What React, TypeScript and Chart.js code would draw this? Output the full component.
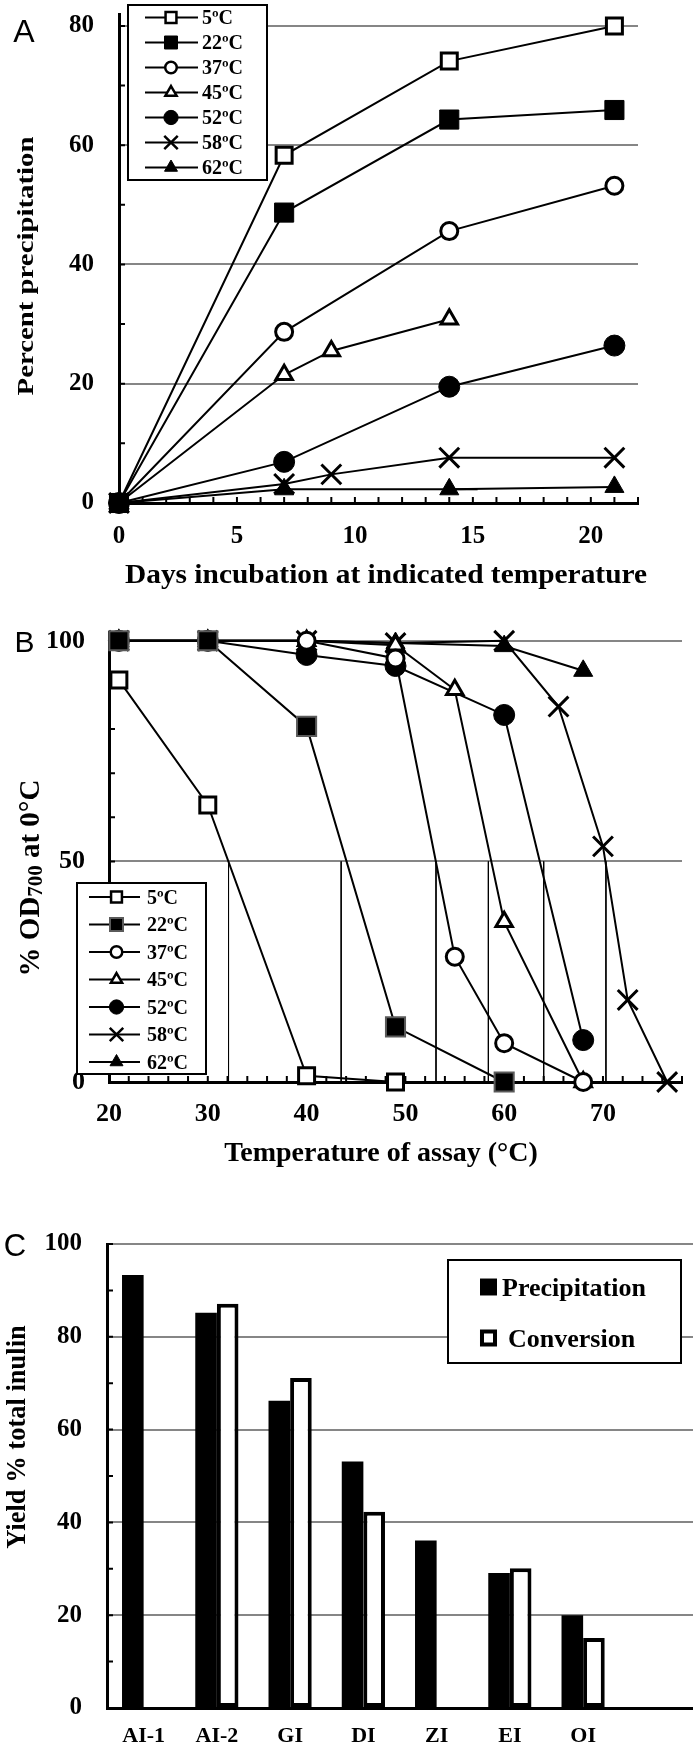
import React, { useEffect, useRef } from 'react';
import { Chart, registerables } from 'chart.js';

Chart.register(...registerables);

const SERIF = "'Liberation Serif', 'Times New Roman', Times, serif";
const SANS = "'Liberation Sans', Arial, Helvetica, sans-serif";
const GRID = '#868686';

type Pt = [number, number];

// ---------------- shared series names & marker styles ----------------
const tempLabels = ['5ºC', '22ºC', '37ºC', '45ºC', '52ºC', '58ºC', '62ºC'];
const markerStyles = ['rect', 'rect', 'circle', 'triangle', 'circle', 'crossRot', 'triangle'];
const markerFilled = [false, true, false, false, true, false, true];
const markerRadius = [11.3, 13.5, 8.5, 9.5, 10.5, 14, 11];

// ---------------- Panel A: days of incubation vs percent precipitation ----------------
const a5C: Pt[] = [[0, 0], [7, 58.3], [14, 74.1], [21, 80]];
const a22C: Pt[] = [[0, 0], [7, 48.7], [14, 64.3], [21, 65.9]];
const a37C: Pt[] = [[0, 0], [7, 28.7], [14, 45.6], [21, 53.2]];
const a45C: Pt[] = [[0, 0], [7, 21.5], [9, 25.5], [14, 30.8]];
const a52C: Pt[] = [[0, 0], [7, 6.9], [14, 19.5], [21, 26.4]];
const a58C: Pt[] = [[0, 0], [7, 3.2], [9, 4.8], [14, 7.6], [21, 7.6]];
const a62C: Pt[] = [[0, 0], [7, 2.3], [14, 2.3], [21, 2.7]];
const a62Extra: Pt[] = [[14, 2.3], [15.2, 2.3]];
const aXTicks = [0, 5, 10, 15, 20];
const aYTicks = [0, 20, 40, 60, 80];
const aXMinor = [1, 2, 3, 4, 5, 6, 7, 8, 9, 10, 11, 12, 13, 14, 15, 16, 17, 18, 19, 20, 21, 22];
const aYMinor = [10, 20, 30, 40, 50, 60, 70, 80];

// ---------------- Panel B: assay temperature vs % OD700 ----------------
const b5C: Pt[] = [[21, 91.1], [30, 62.8], [40, 1.4], [49, 0]];
const b22C: Pt[] = [[21, 100], [30, 100], [40, 80.6], [49, 12.5], [60, 0]];
const b37C: Pt[] = [[21, 100], [30, 100], [40, 100], [49, 96], [55, 28.4], [60, 8.8], [68, 0]];
const b45C: Pt[] = [[21, 100], [30, 100], [40, 100], [49, 99], [55, 88.9], [60, 36.3], [68, 0]];
const b52C: Pt[] = [[21, 100], [30, 100], [40, 96.8], [49, 94.3], [60, 83.2], [68, 9.5]];
const b58C: Pt[] = [[21, 100], [30, 100], [40, 100], [49, 99.5], [60, 100], [65.5, 85.1], [70, 53.4], [72.5, 18.6], [76.5, 0]];
const b62C: Pt[] = [[21, 100], [30, 100], [40, 100], [49, 99.5], [60, 98.8], [68, 93.2]];
const bHalfTemps = [32.1, 43.5, 53.1, 58.4, 64.0, 70.3];
const bHalfLevel = 50;
const bXTicks = [20, 30, 40, 50, 60, 70];
const bYTicks = [0, 50, 100];
const bXMinor = [22, 24, 26, 28, 30, 32, 34, 36, 38, 40, 42, 44, 46, 48, 50, 52, 54, 56, 58, 60, 62, 64, 66, 68, 70, 72, 74, 76, 78];
const bYMinor = [10, 20, 30, 40, 50, 60, 70, 80, 90, 100];

// ---------------- Panel C: yield % total inulin ----------------
const cCategories = ['AI-1', 'AI-2', 'GI', 'DI', 'ZI', 'EI', 'OI', ''];
const cPrecipitation = [93.3, 85.2, 66.2, 53.1, 36.1, 29.1, 20.0];
const cConversion = [null, 87.1, 71.1, 42.3, null, 30.1, 15.1];
const cYTicks = [0, 20, 40, 60, 80, 100];
const cYMinor = [10, 20, 30, 40, 50, 60, 70, 80, 90, 100];

// ---------------- drawing helpers ----------------
function drawMarker(ctx: CanvasRenderingContext2D, style: string, x: number, y: number, r: number, fill: string, stroke: string, lw: number) {
  ctx.save();
  ctx.fillStyle = fill;
  ctx.strokeStyle = stroke;
  ctx.lineWidth = lw;
  ctx.beginPath();
  if (style === 'rect') {
    const s = r * Math.SQRT1_2;
    ctx.rect(x - s, y - s, 2 * s, 2 * s);
  } else if (style === 'circle') {
    ctx.arc(x, y, r, 0, Math.PI * 2);
  } else if (style === 'triangle') {
    const a = (2 * Math.PI) / 3;
    ctx.moveTo(x, y - r);
    ctx.lineTo(x + r * Math.sin(a), y - r * Math.cos(a));
    ctx.lineTo(x + r * Math.sin(2 * a), y - r * Math.cos(2 * a));
    ctx.closePath();
  } else if (style === 'crossRot') {
    const d = r * Math.SQRT1_2;
    ctx.moveTo(x - d, y - d);
    ctx.lineTo(x + d, y + d);
    ctx.moveTo(x + d, y - d);
    ctx.lineTo(x - d, y + d);
  }
  if (style !== 'crossRot') ctx.fill();
  if (lw > 0) ctx.stroke();
  ctx.restore();
}

type Part = { text: string; scale?: number; dy?: number };

function drawTitle(ctx: CanvasRenderingContext2D, parts: Part[], size: number, x: number, y: number, angle: number, stretch: number) {
  ctx.save();
  ctx.translate(x, y);
  ctx.rotate(angle);
  ctx.scale(stretch, 1);
  ctx.textAlign = 'left';
  ctx.textBaseline = 'alphabetic';
  ctx.fillStyle = '#000';
  let total = 0;
  const widths = parts.map((p) => {
    ctx.font = `bold ${size * (p.scale || 1)}px ${SERIF}`;
    const w = ctx.measureText(p.text).width;
    total += w;
    return w;
  });
  let cx = -total / 2;
  const base = size * 0.33;
  parts.forEach((p, i) => {
    ctx.font = `bold ${size * (p.scale || 1)}px ${SERIF}`;
    ctx.fillText(p.text, cx, base + (p.dy || 0));
    cx += widths[i];
  });
  ctx.restore();
}

function drawLegend(chart: any, ctx: CanvasRenderingContext2D, L: any) {
  ctx.save();
  ctx.fillStyle = '#fff';
  ctx.fillRect(L.x, L.y, L.w, L.h);
  ctx.strokeStyle = '#000';
  ctx.lineWidth = 2;
  ctx.strokeRect(L.x, L.y, L.w, L.h);
  const items = chart.data.datasets.filter((d: any) => !d.hideInLegend);
  items.forEach((ds: any, i: number) => {
    const y = L.rowY + i * L.rowH;
    if (L.kind === 'line') {
      ctx.strokeStyle = '#000';
      ctx.lineWidth = 2;
      ctx.beginPath();
      ctx.moveTo(L.lineX1, y);
      ctx.lineTo(L.lineX2, y);
      ctx.stroke();
      drawMarker(ctx, ds.pointStyle, L.markX, y, ds.pointRadius * L.markScale, ds.pointBackgroundColor, ds.pointBorderColor, Math.min(ds.pointBorderWidth, 2.5));
    } else {
      const filled = ds.backgroundColor === '#000';
      drawMarker(ctx, 'rect', L.markX, y, filled ? L.markR : L.markR - 2.8, ds.backgroundColor, '#000', filled ? 0 : 4);
    }
    ctx.fillStyle = '#000';
    ctx.font = `bold ${L.fontSize}px ${SERIF}`;
    ctx.textAlign = 'left';
    ctx.textBaseline = 'alphabetic';
    const tx = Array.isArray(L.textX) ? L.textX[i] : L.textX;
    ctx.fillText(ds.label, tx, y + L.fontSize * 0.33);
  });
  ctx.restore();
}

const decorPlugin = {
  id: 'decor',
  beforeDatasetsDraw(chart: any) {
    const o = chart.options.plugins.decor;
    if (!o) return;
    const { ctx, chartArea } = chart;
    const xs = chart.scales.x;
    const ys = chart.scales.y;
    ctx.save();
    ctx.strokeStyle = '#000';
    ctx.lineWidth = 2;
    ctx.beginPath();
    for (const v of o.xMinor || []) {
      const p = xs.getPixelForValue(v);
      ctx.moveTo(p, chartArea.bottom);
      ctx.lineTo(p, chartArea.bottom - o.tickLen);
    }
    for (const v of o.yMinor || []) {
      const p = ys.getPixelForValue(v);
      ctx.moveTo(chartArea.left, p);
      ctx.lineTo(chartArea.left + o.tickLen, p);
    }
    ctx.stroke();
    ctx.restore();
  },
  afterDraw(chart: any) {
    const o = chart.options.plugins.decor;
    if (!o) return;
    const ctx = chart.ctx;
    ctx.save();
    ctx.fillStyle = '#000';
    ctx.font = `${o.letter.size}px ${SANS}`;
    ctx.textAlign = 'center';
    ctx.textBaseline = 'alphabetic';
    ctx.fillText(o.letter.text, o.letter.x, o.letter.y);
    if (o.xTitle) drawTitle(ctx, o.xTitle.parts, o.xTitle.size, o.xTitle.x, o.xTitle.y, 0, o.xTitle.stretch || 1);
    if (o.yTitle) drawTitle(ctx, o.yTitle.parts, o.yTitle.size, o.yTitle.x, o.yTitle.y, -Math.PI / 2, o.yTitle.stretch || 1);
    if (o.legend) drawLegend(chart, ctx, o.legend);
    ctx.restore();
  },
};

function zeroPad(s: any) {
  s.paddingLeft = 0;
  s.paddingRight = 0;
  s.paddingTop = 0;
  s.paddingBottom = 0;
}

function lineDataset(i: number, pts: Pt[], grayBorder22: boolean) {
  const filled = markerFilled[i];
  const style = markerStyles[i];
  let bw = filled ? 1 : 3;
  let bc = '#000';
  if (i === 1 && grayBorder22) {
    bw = 2;
    bc = '#5a5a5a';
  }
  return {
    label: tempLabels[i],
    data: pts.map(([x, y]) => ({ x, y })),
    showLine: true,
    borderColor: '#000',
    borderWidth: 2,
    pointStyle: style,
    pointRadius: markerRadius[i],
    pointHoverRadius: markerRadius[i],
    pointBackgroundColor: filled ? '#000' : '#fff',
    pointBorderColor: bc,
    pointBorderWidth: bw,
    tension: 0,
    clip: false,
    order: i === 1 ? -1 : 0,
  };
}

const tickFont = (size: number) => ({ family: SERIF, size, weight: 'bold' as const });
const gridColor = (c: any) => (c.tick && c.tick.value === 0 ? 'rgba(0,0,0,0)' : GRID);

function configA(): any {
  const series = [a5C, a22C, a37C, a45C, a52C, a58C, a62C];
  const datasets: any[] = series.map((s, i) => lineDataset(i, s, false));
  datasets.push({
    label: '',
    hideInLegend: true,
    data: a62Extra.map(([x, y]) => ({ x, y })),
    showLine: true,
    borderColor: '#000',
    borderWidth: 2,
    pointRadius: 0,
    clip: false,
    order: 5,
  });
  return {
    type: 'scatter',
    data: { datasets },
    options: {
      animation: false,
      responsive: false,
      devicePixelRatio: 1,
      events: [],
      layout: { padding: { top: 14, right: 55, bottom: 0, left: 0 }, autoPadding: false },
      plugins: {
        legend: { display: false },
        tooltip: { enabled: false },
        decor: {
          tickLen: 6,
          xMinor: aXMinor,
          yMinor: aYMinor,
          letter: { text: 'A', size: 32, x: 24, y: 42 },
          xTitle: { parts: [{ text: 'Days incubation at indicated temperature' }], size: 28, x: 386, y: 574, stretch: 1.05 },
          yTitle: { parts: [{ text: 'Percent precipitation' }], size: 24, x: 25, y: 266, stretch: 1.2 },
          legend: { kind: 'line', x: 128, y: 5, w: 139, h: 175, rowY: 17.5, rowH: 25, lineX1: 145, lineX2: 198, markX: 171, markScale: 0.68, textX: 202, fontSize: 20 },
        },
      },
      scales: {
        x: {
          type: 'linear',
          min: 0,
          max: 22,
          afterBuildTicks: (s: any) => { s.ticks = aXTicks.map((value) => ({ value })); },
          afterFit: (s: any) => { s.height = 112; zeroPad(s); },
          grid: { display: false, drawTicks: false },
          border: { display: true, color: '#000', width: 3 },
          ticks: { color: '#000', font: tickFont(25), padding: 19, maxRotation: 0, autoSkip: false },
        },
        y: {
          type: 'linear',
          min: 0,
          max: 82,
          afterBuildTicks: (s: any) => { s.ticks = aYTicks.map((value) => ({ value })); },
          afterFit: (s: any) => { s.width = 119; zeroPad(s); },
          grid: { color: gridColor, lineWidth: 2, drawTicks: false },
          border: { display: true, color: '#000', width: 3 },
          ticks: { color: '#000', font: tickFont(25), padding: 25 },
        },
      },
    },
    plugins: [decorPlugin],
  };
}

function configB(): any {
  const series = [b5C, b22C, b37C, b45C, b52C, b58C, b62C];
  const datasets: any[] = series.map((s, i) => lineDataset(i, s, true));
  datasets.push({
    label: '',
    hideInLegend: true,
    data: bHalfTemps.flatMap((t) => [{ x: t, y: bHalfLevel }, { x: t, y: 0 }, { x: t, y: null }]),
    showLine: true,
    spanGaps: false,
    borderColor: '#000',
    borderWidth: 1,
    pointRadius: 0,
    clip: false,
    order: 10,
  });
  return {
    type: 'scatter',
    data: { datasets },
    options: {
      animation: false,
      responsive: false,
      devicePixelRatio: 1,
      events: [],
      layout: { padding: { top: 17, right: 11, bottom: 0, left: 0 }, autoPadding: false },
      plugins: {
        legend: { display: false },
        tooltip: { enabled: false },
        decor: {
          tickLen: 6,
          xMinor: bXMinor,
          yMinor: bYMinor,
          letter: { text: 'B', size: 30, x: 24.5, y: 37 },
          xTitle: { parts: [{ text: 'Temperature of assay (°C)' }], size: 28, x: 381, y: 537, stretch: 1 },
          yTitle: {
            parts: [{ text: '% OD' }, { text: '700', scale: 0.72, dy: 3 }, { text: ' at 0°C' }],
            size: 29,
            x: 29,
            y: 263,
            stretch: 1,
          },
          legend: { kind: 'line', x: 77, y: 268, w: 129, h: 191, rowY: 282, rowH: 27.5, lineX1: 89, lineX2: 140, markX: 116.5, markScale: 0.68, textX: 147, fontSize: 20 },
        },
      },
      scales: {
        x: {
          type: 'linear',
          min: 20,
          max: 78,
          afterBuildTicks: (s: any) => { s.ticks = bXTicks.map((value) => ({ value })); },
          afterFit: (s: any) => { s.height = 108; zeroPad(s); },
          grid: { display: false, drawTicks: false },
          border: { display: true, color: '#000', width: 3 },
          ticks: { color: '#000', font: tickFont(26), padding: 17, maxRotation: 0, autoSkip: false },
        },
        y: {
          type: 'linear',
          min: 0,
          max: 102,
          afterBuildTicks: (s: any) => { s.ticks = bYTicks.map((value) => ({ value })); },
          afterFit: (s: any) => { s.width = 109; zeroPad(s); },
          grid: { color: gridColor, lineWidth: 2, drawTicks: false },
          border: { display: true, color: '#000', width: 3 },
          ticks: { color: '#000', font: tickFont(26), padding: 24 },
        },
      },
    },
    plugins: [decorPlugin],
  };
}

function configC(): any {
  return {
    type: 'bar',
    data: {
      labels: cCategories,
      datasets: [
        {
          label: 'Precipitation',
          data: cPrecipitation,
          backgroundColor: '#000',
          borderWidth: 0,
          categoryPercentage: 0.59,
          barPercentage: 1,
        },
        {
          label: 'Conversion',
          data: cConversion,
          backgroundColor: '#fff',
          borderColor: '#000',
          borderWidth: 4,
          borderSkipped: false,
          categoryPercentage: 0.59,
          barPercentage: 1,
        },
      ],
    },
    options: {
      animation: false,
      responsive: false,
      devicePixelRatio: 1,
      events: [],
      layout: { padding: { top: 54, right: 0, bottom: 0, left: 0 }, autoPadding: false },
      plugins: {
        legend: { display: false },
        tooltip: { enabled: false },
        decor: {
          tickLen: 6,
          yMinor: cYMinor,
          letter: { text: 'C', size: 31, x: 15, y: 66 },
          yTitle: { parts: [{ text: 'Yield % total inulin' }], size: 26.5, x: 16.5, y: 247, stretch: 1 },
          legend: { kind: 'bar', x: 448, y: 70, w: 233, h: 103, rowY: 97, rowH: 51, markX: 488.5, markR: 12, textX: [502, 508], fontSize: 26 },
        },
      },
      scales: {
        x: {
          type: 'category',
          afterFit: (s: any) => { s.height = 42; zeroPad(s); },
          grid: { display: false, drawTicks: false },
          border: { display: true, color: '#000', width: 3 },
          ticks: { color: '#000', font: tickFont(22), padding: 15, maxRotation: 0, autoSkip: false },
        },
        y: {
          type: 'linear',
          min: 0,
          max: 100,
          afterBuildTicks: (s: any) => { s.ticks = cYTicks.map((value) => ({ value })); },
          afterFit: (s: any) => { s.width = 107; zeroPad(s); },
          grid: { color: gridColor, lineWidth: 2, drawTicks: false },
          border: { display: true, color: '#000', width: 3 },
          ticks: { color: '#000', font: tickFont(25), padding: 25 },
        },
      },
    },
    plugins: [decorPlugin],
  };
}

function Panel({ make, top, height }: { make: () => any; top: number; height: number }) {
  const ref = useRef<HTMLCanvasElement>(null);
  useEffect(() => {
    const chart = new Chart(ref.current as HTMLCanvasElement, make());
    return () => chart.destroy();
  }, []);
  return (
    <canvas
      ref={ref}
      width={693}
      height={height}
      style={{ position: 'absolute', left: 0, top, width: 693, height, display: 'block' }}
    />
  );
}

export default function App() {
  return (
    <div style={{ position: 'absolute', left: 0, top: 0, width: 693, height: 1750, background: '#fff', overflow: 'hidden' }}>
      <Panel make={configA} top={0} height={615} />
      <Panel make={configB} top={615} height={575} />
      <Panel make={configC} top={1190} height={560} />
    </div>
  );
}
